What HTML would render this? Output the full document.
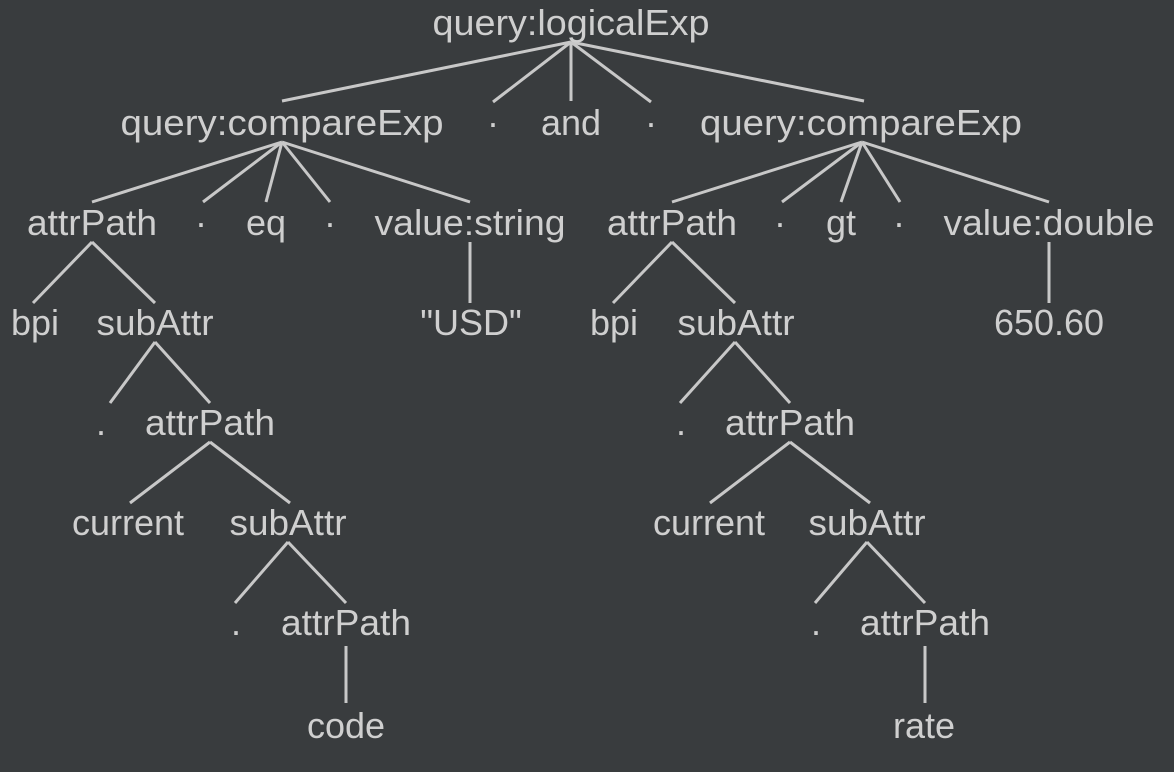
<!DOCTYPE html>
<html><head><meta charset="utf-8"><style>
html,body{margin:0;padding:0;background:#393c3e;}
svg{display:block}
text{font-family:"Liberation Sans",sans-serif;font-size:36px;fill:#cfcfcf;text-anchor:middle}
line{stroke:#c8c8c8;stroke-width:3}
</style></head><body>
<svg width="1174" height="772" viewBox="0 0 1174 772">
<g>
<line x1="571" y1="42" x2="282" y2="101"/>
<line x1="571" y1="42" x2="493" y2="102"/>
<line x1="571" y1="42" x2="571" y2="101"/>
<line x1="571" y1="42" x2="651" y2="102"/>
<line x1="571" y1="42" x2="864" y2="101"/>

<line x1="282" y1="142" x2="92" y2="202"/>
<line x1="282" y1="142" x2="203" y2="202"/>
<line x1="282" y1="142" x2="266" y2="202"/>
<line x1="282" y1="142" x2="330" y2="202"/>
<line x1="282" y1="142" x2="470" y2="202"/>

<line x1="862" y1="142" x2="672" y2="202"/>
<line x1="862" y1="142" x2="782" y2="202"/>
<line x1="862" y1="142" x2="841" y2="202"/>
<line x1="862" y1="142" x2="900" y2="202"/>
<line x1="862" y1="142" x2="1049" y2="202"/>

<line x1="92" y1="242" x2="33" y2="303"/>
<line x1="92" y1="242" x2="155" y2="303"/>
<line x1="470" y1="242" x2="470" y2="303"/>
<line x1="672" y1="242" x2="613" y2="303"/>
<line x1="672" y1="242" x2="735" y2="303"/>
<line x1="1049" y1="242" x2="1049" y2="303"/>

<line x1="155" y1="342" x2="110" y2="403"/>
<line x1="155" y1="342" x2="210" y2="403"/>
<line x1="735" y1="342" x2="680" y2="403"/>
<line x1="735" y1="342" x2="790" y2="403"/>

<line x1="210" y1="442" x2="130" y2="503"/>
<line x1="210" y1="442" x2="290" y2="503"/>
<line x1="790" y1="442" x2="710" y2="503"/>
<line x1="790" y1="442" x2="870" y2="503"/>

<line x1="288" y1="542" x2="235" y2="603"/>
<line x1="288" y1="542" x2="346" y2="603"/>
<line x1="867" y1="542" x2="815" y2="603"/>
<line x1="867" y1="542" x2="925" y2="603"/>

<line x1="346" y1="646" x2="346" y2="703"/>
<line x1="925" y1="646" x2="925" y2="703"/>
</g>
<g>
<text x="571" y="35" textLength="277" lengthAdjust="spacingAndGlyphs">query:logicalExp</text>

<text x="282" y="135" textLength="323" lengthAdjust="spacingAndGlyphs">query:compareExp</text>
<text x="493" y="135">·</text>
<text x="571" y="135">and</text>
<text x="651" y="135">·</text>
<text x="861" y="135" textLength="322" lengthAdjust="spacingAndGlyphs">query:compareExp</text>

<text x="92" y="235" textLength="130" lengthAdjust="spacingAndGlyphs">attrPath</text>
<text x="201" y="235">·</text>
<text x="266" y="235">eq</text>
<text x="330" y="235">·</text>
<text x="470" y="235" textLength="191" lengthAdjust="spacingAndGlyphs">value:string</text>
<text x="672" y="235" textLength="130" lengthAdjust="spacingAndGlyphs">attrPath</text>
<text x="780" y="235">·</text>
<text x="841" y="235">gt</text>
<text x="899" y="235">·</text>
<text x="1049" y="235" textLength="211" lengthAdjust="spacingAndGlyphs">value:double</text>

<text x="35" y="335">bpi</text>
<text x="155" y="335" textLength="117" lengthAdjust="spacingAndGlyphs">subAttr</text>
<text x="471" y="335">"USD"</text>
<text x="614" y="335">bpi</text>
<text x="736" y="335" textLength="117" lengthAdjust="spacingAndGlyphs">subAttr</text>
<text x="1049" y="335">650.60</text>

<text x="101" y="435">.</text>
<text x="210" y="435" textLength="130" lengthAdjust="spacingAndGlyphs">attrPath</text>
<text x="681" y="435">.</text>
<text x="790" y="435" textLength="130" lengthAdjust="spacingAndGlyphs">attrPath</text>

<text x="128" y="535">current</text>
<text x="288" y="535" textLength="117" lengthAdjust="spacingAndGlyphs">subAttr</text>
<text x="709" y="535">current</text>
<text x="867" y="535" textLength="117" lengthAdjust="spacingAndGlyphs">subAttr</text>

<text x="236" y="635">.</text>
<text x="346" y="635" textLength="130" lengthAdjust="spacingAndGlyphs">attrPath</text>
<text x="816" y="635">.</text>
<text x="925" y="635" textLength="130" lengthAdjust="spacingAndGlyphs">attrPath</text>

<text x="346" y="738">code</text>
<text x="924" y="738">rate</text>
</g>
</svg>
</body></html>
